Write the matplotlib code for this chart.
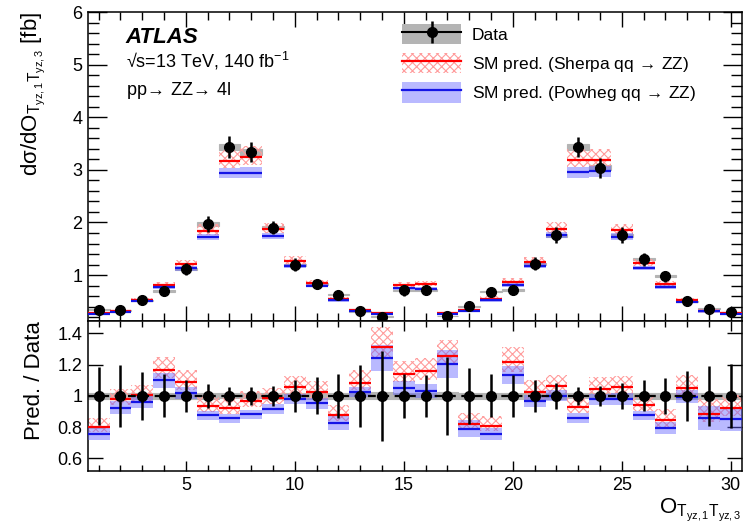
import numpy as np
import matplotlib
matplotlib.use('Agg')
import matplotlib.pyplot as plt
from matplotlib.patches import Patch
from matplotlib.lines import Line2D
from matplotlib.legend_handler import HandlerTuple
from matplotlib.ticker import MultipleLocator, FixedLocator, FuncFormatter

plt.rcParams['font.family'] = ['Liberation Sans', 'DejaVu Sans']
plt.rcParams['mathtext.fontset'] = 'custom'
plt.rcParams['mathtext.rm'] = 'Liberation Sans'
plt.rcParams['mathtext.it'] = 'Liberation Sans:italic'
plt.rcParams['mathtext.bf'] = 'Liberation Sans:bold'
plt.rcParams['hatch.linewidth'] = 0.8

# bin centres (30 bins of width 1)
bins = np.arange(1, 31)

# measured cross section [fb]
data = [0.34, 0.33, 0.525, 0.70, 1.11, 1.97, 3.44, 3.34, 1.90, 1.20,
        0.835, 0.627, 0.31, 0.21, 0.71, 0.72, 0.22, 0.405, 0.684, 0.715,
        1.215, 1.76, 3.44, 3.04, 1.76, 1.30, 0.975, 0.50, 0.36, 0.30]
# relative error bars on data
data_err = [0.185, 0.196, 0.155, 0.137, 0.105, 0.075, 0.060, 0.058, 0.065, 0.105,
            0.118, 0.143, 0.200, 0.290, 0.138, 0.135, 0.250, 0.178, 0.137, 0.135,
            0.102, 0.084, 0.056, 0.063, 0.084, 0.099, 0.113, 0.160, 0.193, 0.207]
# relative grey box on data
data_sys = [0.020, 0.020, 0.018, 0.018, 0.017, 0.020, 0.016, 0.016, 0.017, 0.017,
            0.017, 0.018, 0.020, 0.022, 0.018, 0.018, 0.022, 0.020, 0.018, 0.018,
            0.017, 0.017, 0.016, 0.016, 0.017, 0.017, 0.018, 0.020, 0.020, 0.020]

# prediction / data
sherpa_ratio = [0.804, 0.983, 1.006, 1.168, 1.090, 0.938, 0.923, 0.970, 0.987, 1.056,
                1.024, 0.876, 1.084, 1.316, 1.138, 1.157, 1.258, 0.820, 0.809, 1.217,
                1.026, 1.065, 0.927, 1.047, 1.054, 0.940, 0.843, 1.050, 0.884, 0.925]
powheg_ratio = [0.757, 0.925, 0.960, 1.099, 1.017, 0.875, 0.856, 0.882, 0.918, 0.980,
                0.952, 0.830, 1.025, 1.241, 1.050, 1.034, 1.204, 0.790, 0.759, 1.133,
                0.968, 1.000, 0.858, 0.978, 0.981, 0.875, 0.796, 0.996, 0.858, 0.854]

# relative uncertainty bands of the predictions
sherpa_up = [0.065, 0.065, 0.065, 0.070, 0.068, 0.065, 0.066, 0.066, 0.065, 0.070,
             0.070, 0.075, 0.075, 0.096, 0.075, 0.075, 0.080, 0.085, 0.080, 0.080,
             0.077, 0.067, 0.065, 0.070, 0.067, 0.070, 0.090, 0.080, 0.110, 0.090]
sherpa_dn = [0.040, 0.040, 0.040, 0.045, 0.045, 0.044, 0.044, 0.044, 0.042, 0.045,
             0.045, 0.045, 0.045, 0.060, 0.045, 0.045, 0.050, 0.050, 0.045, 0.050,
             0.045, 0.042, 0.042, 0.042, 0.042, 0.042, 0.050, 0.050, 0.060, 0.060]
powheg_unc = [0.050, 0.045, 0.040, 0.042, 0.038, 0.035, 0.033, 0.035, 0.035, 0.032,
              0.035, 0.054, 0.032, 0.067, 0.045, 0.043, 0.075, 0.068, 0.050, 0.052,
              0.040, 0.035, 0.035, 0.035, 0.038, 0.030, 0.047, 0.043, 0.090, 0.090]

GREY = '#b4b4b4'
HATCH = '#ff9c9c'
BLUE_BAND = '#6464ff'
RED = '#ff0000'
BLUE = '#1414e6'
ARROW = r'$\!\rightarrow\!$'


def draw(axis, ref, ms):
    d = np.array(data)
    sh = np.array(sherpa_ratio) * d / ref
    pw = np.array(powheg_ratio) * d / ref
    dv = d / ref
    sys_ = np.array(data_sys)
    up, dn, pu = np.array(sherpa_up), np.array(sherpa_dn), np.array(powheg_unc)
    axis.bar(bins, 2 * sys_ * dv, bottom=dv * (1 - sys_), width=1, color=GREY,
             edgecolor=GREY, lw=0.8, zorder=1)
    axis.bar(bins, sh * (up + dn), bottom=sh * (1 - dn), width=1, facecolor='none',
             edgecolor=HATCH, hatch='xxxx', lw=0, zorder=2)
    axis.bar(bins, 2 * pw * pu, bottom=pw * (1 - pu), width=1, color=BLUE_BAND,
             alpha=0.45, lw=0, zorder=3)
    axis.hlines(sh, bins - 0.5, bins + 0.5, color=RED, lw=1.6, zorder=4)
    axis.hlines(pw, bins - 0.5, bins + 0.5, color=BLUE, lw=1.6, zorder=4)
    axis.errorbar(bins, dv, yerr=np.array(data_err) * dv, fmt='o', color='k',
                  ms=ms, elinewidth=1.8, capsize=0, zorder=6)


fig = plt.figure(figsize=(7.44, 5.26), dpi=100)
ax = fig.add_axes([0.118, 0.39, 0.879, 0.587])
rax = fig.add_axes([0.118, 0.1046, 0.879, 0.2854], sharex=ax)

draw(ax, 1.0, 7)
draw(rax, np.array(data), 7)
rax.axhline(1.0, color='k', ls=(0, (3.5, 2.5)), lw=1.6, zorder=5)

ax.set_xlim(0.5, 30.5)
ax.set_ylim(0.13, 6)
rax.set_ylim(0.52, 1.48)

ax.yaxis.set_major_locator(FixedLocator([1, 2, 3, 4, 5, 6]))
ax.yaxis.set_minor_locator(MultipleLocator(0.2))
ax.xaxis.set_major_locator(MultipleLocator(5))
ax.xaxis.set_minor_locator(MultipleLocator(1))
rax.yaxis.set_major_locator(FixedLocator([0.6, 0.8, 1.0, 1.2, 1.4]))
rax.yaxis.set_minor_locator(FixedLocator([]))
rax.yaxis.set_major_formatter(FuncFormatter(lambda v, _: f'{v:g}'))

for a in (ax, rax):
    for s in a.spines.values():
        s.set_linewidth(1.1)
    a.tick_params(which='both', direction='in', top=True, right=True,
                  labelsize=13, width=1.0, pad=4)

ax.tick_params(labelbottom=False)
ax.tick_params(axis='y', which='major', length=14)
ax.tick_params(axis='y', which='minor', length=8)
ax.tick_params(axis='x', which='major', length=11)
ax.tick_params(axis='x', which='minor', length=6)
rax.tick_params(axis='y', which='major', length=11)
rax.tick_params(axis='x', which='major', length=7)
rax.tick_params(axis='x', which='minor', length=4)

sub = r'$_{\mathrm{T}_{\mathrm{yz,1}}\mathrm{T}_{\mathrm{yz,3}}}$'
ax.set_ylabel('dσ/dO' + sub + ' [fb]', fontsize=16, loc='top')
ax.yaxis.set_label_coords(-0.062, 1.0)
rax.set_ylabel('Pred. / Data', fontsize=16, loc='top')
rax.yaxis.set_label_coords(-0.066, 1.0)
rax.set_xlabel('O' + sub, fontsize=16, loc='right')
rax.xaxis.set_label_coords(1.0, -0.17)

ax.text(0.057, 0.9, 'ATLAS', transform=ax.transAxes, fontsize=16,
        fontweight='bold', fontstyle='italic')
ax.text(0.058, 0.819, '√s=13 TeV, 140 fb$^{\\mathrm{-1}}$', transform=ax.transAxes,
        fontsize=13)
ax.text(0.058, 0.731, 'pp' + ARROW + ' ZZ' + ARROW + ' 4l', transform=ax.transAxes,
        fontsize=13)

h_data = (Patch(facecolor=GREY, edgecolor='none'),
          Line2D([], [], color='k', lw=1.5, marker='o', ms=7),
          Line2D([], [], color='k', ls='none', marker='|', ms=16, mew=1.8))
h_sh = (Patch(facecolor='none', edgecolor=HATCH, hatch='xxxx', lw=0),
        Line2D([], [], color=RED, lw=1.6))
h_pw = (Patch(facecolor=BLUE_BAND, alpha=0.45, edgecolor='none'),
        Line2D([], [], color=BLUE, lw=1.6))
ax.legend([h_data, h_sh, h_pw],
          ['Data', 'SM pred. (Sherpa qq ' + ARROW + ' ZZ)',
           'SM pred. (Powheg qq ' + ARROW + ' ZZ)'],
          handler_map={tuple: HandlerTuple(ndivide=1, pad=0)},
          loc='upper left', bbox_to_anchor=(0.462, 1.0), frameon=False,
          fontsize=12.5, handlelength=3.4, handleheight=1.4, handletextpad=0.6,
          labelspacing=0.5, borderaxespad=0.3)

fig.savefig('out.png', dpi=100)
